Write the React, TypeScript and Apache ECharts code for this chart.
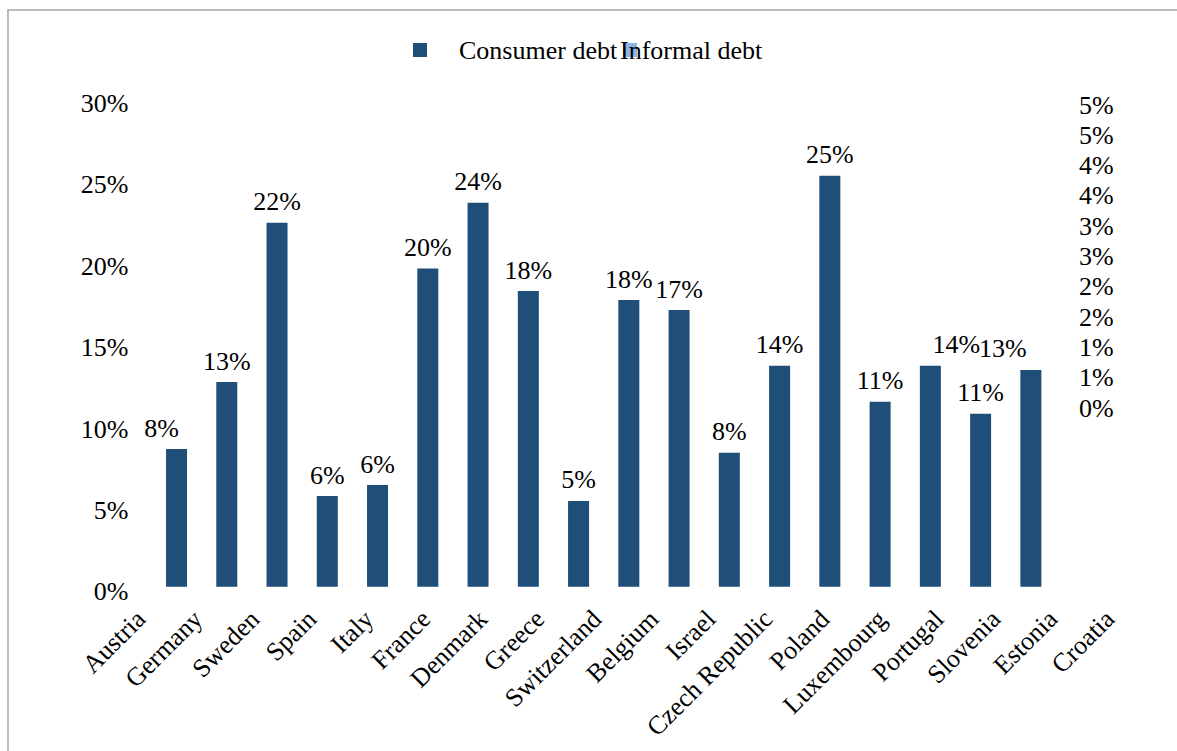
import React, { useEffect, useRef } from "react";
import * as echarts from "echarts";

const categories = [
  "Austria", "Germany", "Sweden", "Spain", "Italy", "France", "Denmark", "Greece",
  "Switzerland", "Belgium", "Israel", "Czech Republic", "Poland", "Luxembourg",
  "Portugal", "Slovenia", "Estonia", "Croatia",
];
const consumerDebt = [
  8.46, 12.58, 22.37, 5.57, 6.25, 19.55, 23.6, 18.17, 5.27, 17.62, 17.0, 8.24,
  13.58, 25.26, 11.37, 13.58, 10.63, 13.32,
];
const informalDebt: (number | null)[] = [];
const leftTicks = { min: 0, max: 30, interval: 5 };
const rightTicks = { min: 0, max: 5, interval: 0.5 };
const seriesNames = ["Consumer debt", "Informal debt"];

const FONT = "'Liberation Serif', 'Times New Roman', serif";
const DARK = "#1F4E79";
const LIGHT = "#8DB4E2";
// label nudges seen in the reference (index -> px)
const labelNudge: Record<number, number> = { 0: -15, 15: 26, 17: -28 };

export default function App() {
  const ref = useRef<HTMLDivElement>(null);
  useEffect(() => {
    if (!ref.current) return;
    const chart = echarts.init(ref.current, undefined, { renderer: "svg" });
    const H = 751;
    const barBottom = 586.7;
    const textBase = { fontFamily: FONT, fontSize: 26, color: "#000" };
    chart.setOption({
      animation: false,
      backgroundColor: "#fff",
      graphic: [
        {
          type: "rect",
          shape: { x: 8, y: 10, width: 1400, height: 1000 },
          style: { fill: "none", stroke: "#a6a6a6", lineWidth: 1.5 },
          silent: true,
          z: -10,
        },
      ],
      legend: [
        {
          data: [{ name: seriesNames[0], icon: "rect" }],
          left: 413,
          top: 37,
          padding: 0,
          itemWidth: 14,
          itemHeight: 14,
          selectedMode: false,
          textStyle: { ...textBase, padding: [0, 0, 0, 27] },
        },
        {
          data: [{ name: seriesNames[1], icon: "rect" }],
          left: 620,
          top: 37,
          padding: 0,
          itemWidth: 14,
          itemHeight: 14,
          selectedMode: false,
          textStyle: { ...textBase, padding: [0, 0, 0, -22] },
        },
      ],
      grid: [
        { left: 151.4, right: 1177 - 1056, top: 98.6, bottom: H - barBottom },
        { left: 151.4, right: 1177 - 1071, top: 105, bottom: H - 408 },
        { left: 112.5, right: 1177 - 112.5 - 1026, top: 98.6, bottom: H - barBottom },
      ],
      xAxis: [
        {
          type: "category",
          gridIndex: 0,
          data: categories,
          axisLabel: { show: false },
          axisTick: { show: false },
          axisLine: { show: false },
        },
        {
          type: "category",
          gridIndex: 1,
          data: categories,
          show: false,
        },
        {
          type: "category",
          gridIndex: 2,
          data: categories,
          axisLine: { show: false },
          axisTick: { show: false },
          axisLabel: { ...textBase, interval: 0, rotate: 45, margin: 28 },
        },
      ],
      yAxis: [
        {
          type: "value",
          gridIndex: 0,
          ...leftTicks,
          splitLine: { show: false },
          axisLine: { show: false },
          axisTick: { show: false },
          axisLabel: {
            ...textBase,
            margin: 23,
            verticalAlign: "top",
            lineHeight: 10,
            formatter: (v: number) => `${v}%`,
          },
        },
        {
          type: "value",
          gridIndex: 1,
          position: "right",
          ...rightTicks,
          splitLine: { show: false },
          axisLine: { show: false },
          axisTick: { show: false },
          axisLabel: {
            ...textBase,
            margin: 8,
            formatter: (v: number) => `${Math.round(v)}%`,
          },
        },
        {
          type: "value",
          gridIndex: 2,
          show: false,
          min: 0,
          max: 30,
          axisLine: { show: false },
          splitLine: { show: false },
        },
      ],
      series: [
        {
          name: seriesNames[0],
          type: "bar",
          xAxisIndex: 0,
          yAxisIndex: 0,
          barWidth: 21,
          itemStyle: { color: DARK },
          label: {
            show: true,
            position: "top",
            distance: 8,
            ...textBase,
            formatter: (p: any) => `${Math.round(p.value)}%`,
          },
          data: consumerDebt.map((v, i) =>
            labelNudge[i] !== undefined
              ? { value: v, label: { offset: [labelNudge[i], 0] } }
              : v
          ),
        },
        {
          name: seriesNames[1],
          type: "bar",
          xAxisIndex: 1,
          yAxisIndex: 1,
          itemStyle: { color: LIGHT },
          data: informalDebt,
        },
      ],
    });
    return () => chart.dispose();
  }, []);
  return (
    <div
      ref={ref}
      style={{ position: "fixed", left: 0, top: 0, width: 1177, height: 751 }}
    />
  );
}
